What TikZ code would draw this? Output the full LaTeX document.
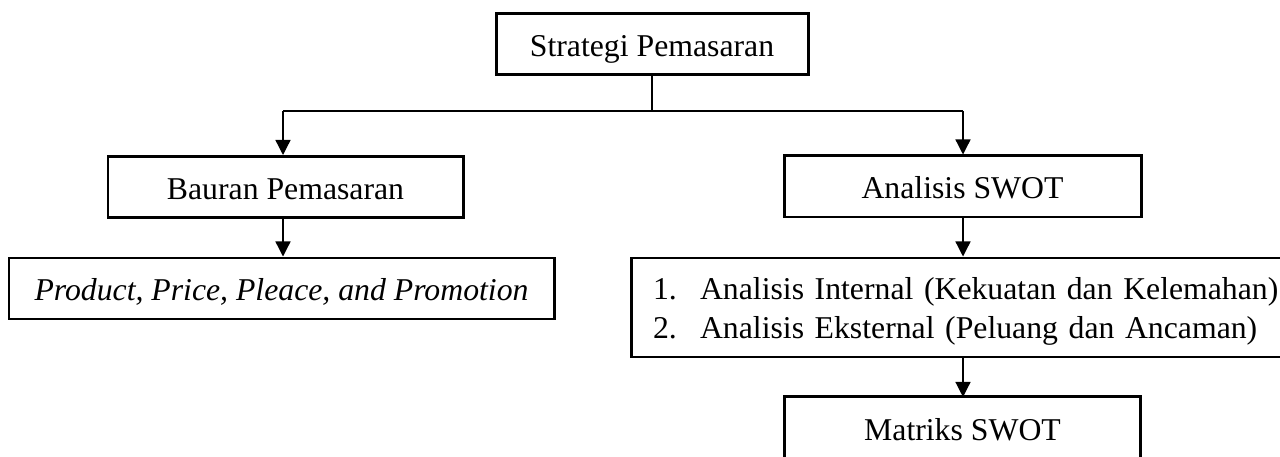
\documentclass[tikz,border=0pt]{standalone}
\usepackage{fontspec}
\setmainfont{Liberation Serif}
\usetikzlibrary{arrows.meta,calc}
\newcommand{\pxu}{0.378pt}
\begin{document}
\begin{tikzpicture}[x=0.378pt,y=-0.378pt,
  boxline/.style={line width=1.13pt},
  box/.style={draw,boxline,minimum height=61*\pxu,inner sep=0pt,
    font=\fontsize{12}{14.4}\selectfont,text height=10pt,text depth=0.6pt},
  conn/.style={line width=0.5pt},
  arr/.style={conn,-{Triangle[width=5.7pt,length=5.7pt]}}]
\clip (0,0) rectangle (1280,457);
\fill[white] (0,0) rectangle (1280,457);
\node[box,minimum width=312*\pxu] (strat) at (652,44.5) {Strategi Pemasaran};
\node[box,minimum width=355*\pxu] (baur) at (285.5,187) {Bauran Pemasaran};
\node[box,minimum width=545*\pxu] (prod) at (281.5,288.5) {\itshape Product, Price, Pleace, and Promotion};
\node[box,minimum width=357*\pxu] (swot) at (962.5,186.5) {Analisis SWOT};
\node[draw,boxline,inner xsep=8.3pt,inner ysep=0pt,minimum height=99*\pxu,
  text width=274pt,align=left,font=\fontsize{12}{14.4}\selectfont]
  (list) at (1015.5,307.5)
  {\rule{0pt}{11.3pt}\makebox[17.77pt][l]{1.}Analisis Internal (Kekuatan dan Kelemahan)\\
   \makebox[17.77pt][l]{2.}Analisis Eksternal (Peluang dan Ancaman)};
\node[inner sep=0pt,minimum width=355*\pxu,minimum height=61*\pxu,
  font=\fontsize{12}{14.4}\selectfont,text height=10pt,text depth=0.6pt]
  (mat) at (962.5,428) {Matriks SWOT};
\draw[boxline] ([yshift=-20pt]mat.south west) |- (mat.north east) -- ([yshift=-20pt]mat.south east);
\coordinate (hl) at (283,111);
\coordinate (hr) at (963,111);
\draw[conn] (strat.south) -- (strat.south |- hl);
\draw[conn] (hl) -- (hr);
\draw[arr] (hl) -- (hl |- baur.north);
\draw[arr] (hr) -- (hr |- swot.north);
\draw[arr] (baur.south -| hl) -- (hl |- prod.north);
\draw[arr] (swot.south -| hr) -- (hr |- list.north);
\draw[arr] (list.south -| hr) -- (hr |- mat.north);
\end{tikzpicture}
\end{document}
